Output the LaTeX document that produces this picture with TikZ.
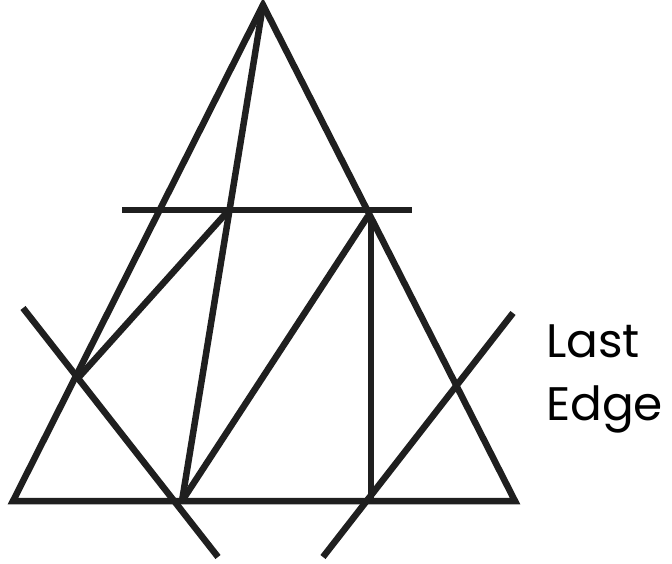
\documentclass[tikz,border=0pt]{standalone}
\usepackage{fontspec}
\setmainfont{Poppins}
\tikzset{edge/.style={line width=6.5pt, draw=black!88, line cap=butt}}
\begin{document}
\begin{tikzpicture}[x=1pt,y=-1pt]
\useasboundingbox (0,0) rectangle (672,564);
\coordinate (A) at (263,5);
\coordinate (BL) at (13,501);
\coordinate (BR) at (515,501);
\coordinate (M) at (182,501);
\coordinate (H1) at (122,210);
\coordinate (H2) at (412,210);
\coordinate (P) at (229,210);
\coordinate (Q) at (368,216);
\coordinate (V) at (371,501);
\coordinate (L1) at (23,308);
\coordinate (L2) at (218,557);
\coordinate (X) at (79,377);
\coordinate (R1) at (513,313);
\coordinate (R2) at (323,557);
\draw[edge, line join=miter] (A) -- (BR) -- (BL) -- cycle;
\draw[edge] (A) -- (M);
\draw[edge] (H1) -- (H2);
\draw[edge] (X) -- (P);
\draw[edge] (M) -- (Q);
\draw[edge] (371,216) -- (V);
\draw[edge] (L1) -- (L2);
\draw[edge] (R1) -- (R2);
\node[anchor=base west, inner sep=0pt, font=\fontsize{47}{63}\selectfont] (t1) at (546,357) {Last};
\node[anchor=base west, inner sep=0pt, font=\fontsize{47}{63}\selectfont] (t2) at (546,420) {Edge};
\end{tikzpicture}
\end{document}
